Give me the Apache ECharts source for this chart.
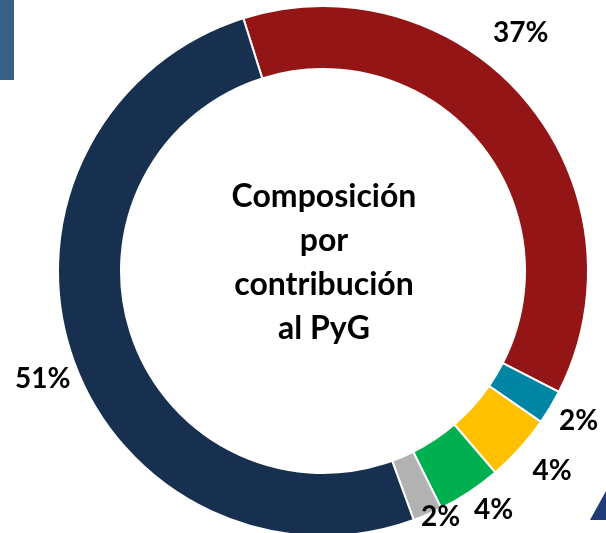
<!DOCTYPE html>
<html>
<head>
<meta charset="utf-8">
<script src="https://cdn.jsdelivr.net/npm/echarts@6/dist/echarts.min.js"></script>
<style>
  html, body { margin: 0; padding: 0; background: #ffffff; }
  #pieChart { width: 606px; height: 533px; }
</style>
</head>
<body>
<div id="pieChart"></div>
<script>
// shares of PyG contribution, in drawing order (clockwise from the top)
const segments = ['Rojo', 'Turquesa', 'Amarillo', 'Verde', 'Gris', 'Azul'];
const shares = [37.4, 2.1, 4.1, 3.9, 1.8, 50.7];
const segmentColors = ['#931516', '#0085a4', '#ffc000', '#00b050', '#b2b2b2', '#18304f'];
const centerLines = ['Composición', 'por', 'contribución', 'al PyG'];

function drawDonut() {
    const myChart = echarts.init(document.getElementById('pieChart'));

    // a few labels were nudged by hand in the original slide
    const labelOffsets = [[-30, -46], [0, -3], [8, 0], [6, -9], [0, -28], [2, 12]];

    const ringData = shares.map(function (v, i) {
        return {name: segments[i], value: v, itemStyle: {color: segmentColors[i]}};
    });
    const labelData = shares.map(function (v, i) {
        return {name: segments[i], value: v, label: {offset: labelOffsets[i]}};
    });

    const option = {
        backgroundColor: '#ffffff',
        animation: false,
        graphic: [
            {
                type: 'rect',
                shape: {x: 0, y: 0, width: 14, height: 80},
                style: {fill: '#3a5f87'}
            },
            {
                type: 'polygon',
                shape: {points: [[590, 520], [606, 491], [606, 520]]},
                style: {fill: '#1f3c74'}
            },
            {
                type: 'text',
                x: 324,
                y: 263,
                style: {
                    text: centerLines.join('\n'),
                    fill: '#000000',
                    font: 'bold 32px Lato',
                    lineHeight: 44,
                    align: 'center',
                    verticalAlign: 'middle'
                }
            }
        ],
        series: [
            {
                type: 'pie',
                center: [323, 271],
                radius: [202, 265],
                startAngle: 107.5,
                clockwise: true,
                silent: true,
                label: {show: false},
                labelLine: {show: false},
                itemStyle: {borderColor: '#ffffff', borderWidth: 2},
                data: ringData
            },
            {
                // invisible ring used only to place the percentage labels
                type: 'pie',
                center: [323, 271],
                radius: [280, 310],
                startAngle: 107.5,
                clockwise: true,
                silent: true,
                itemStyle: {color: 'rgba(0,0,0,0)'},
                label: {
                    show: true,
                    position: 'inside',
                    color: '#000000',
                    fontFamily: 'Lato',
                    fontWeight: 'bold',
                    fontSize: 28,
                    formatter: function (p) {
                        return Math.round(p.value) + '%';
                    }
                },
                labelLine: {show: false},
                data: labelData
            }
        ]
    };

    myChart.setOption(option);
    window.onresize = myChart.resize;
}

drawDonut();
</script>
</body>
</html>
